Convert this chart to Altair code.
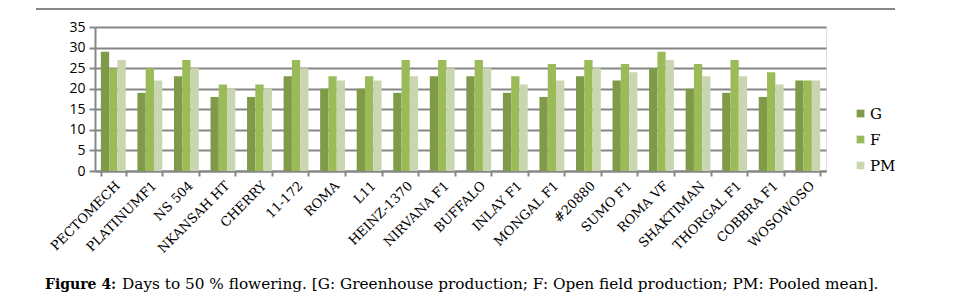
import altair as alt
import pandas as pd

varieties = ["PECTOMECH", "PLATINUMF1", "NS 504", "NKANSAH HT", "CHERRY", "11-172",
             "ROMA", "L11", "HEINZ-1370", "NIRVANA F1", "BUFFALO", "INLAY F1",
             "MONGAL F1", "#20880", "SUMO F1", "ROMA VF", "SHAKTIMAN", "THORGAL F1",
             "COBBRA F1", "WOSOWOSO"]
g_vals = [29, 19, 23, 18, 18, 23, 20, 20, 19, 23, 23, 19, 18, 23, 22, 25, 20, 19, 18, 22]
f_vals = [25, 25, 27, 21, 21, 27, 23, 23, 27, 27, 27, 23, 26, 27, 26, 29, 26, 27, 24, 22]
pm_vals = [27, 22, 25, 20, 20, 25, 22, 22, 23, 25, 25, 21, 22, 25, 24, 27, 23, 23, 21, 22]
series = ["G", "F", "PM"]
colors = ["#7f9a48", "#9bbb59", "#c9d6b0"]
y_ticks = [0, 5, 10, 15, 20, 25, 30, 35]

rows = []
for i, v in enumerate(varieties):
    for s, vals in zip(series, [g_vals, f_vals, pm_vals]):
        rows.append({"variety": v, "series": s, "value": vals[i]})
df = pd.DataFrame(rows)

W, H = 731, 144
SERIF = "DejaVu Serif"

bars = alt.Chart(df).mark_bar().encode(
    x=alt.X("variety:N", sort=varieties,
            scale=alt.Scale(paddingInner=0.32, paddingOuter=0.16),
            axis=alt.Axis(title=None, labelAngle=-45, labelAlign="right",
                          labelBaseline="top", labelFont=SERIF, labelFontSize=13,
                          labelColor="#000", domainColor="#868686", domainWidth=2,
                          tickColor="#868686", tickWidth=2, tickSize=5,
                          tickBand="extent", grid=False, labelPadding=3)),
    xOffset=alt.XOffset("series:N", sort=series),
    y=alt.Y("value:Q", scale=alt.Scale(domain=[0, 35], nice=False),
            axis=alt.Axis(title=None, values=y_ticks, labelFont="Open Sans",
                          labelFontSize=14, labelColor="#000",
                          domainColor="#868686", domainWidth=2,
                          tickColor="#868686", tickWidth=2, tickSize=6,
                          gridColor="#868686", gridWidth=2, labelPadding=4)),
    color=alt.Color("series:N", sort=series,
                    scale=alt.Scale(domain=series, range=colors),
                    legend=alt.Legend(title=None, orient="none", legendX=758,
                                      legendY=79, symbolType="square",
                                      symbolSize=60, symbolStrokeWidth=0,
                                      labelFont=SERIF, labelFontSize=15,
                                      labelColor="#000", rowPadding=10,
                                      labelOffset=2)),
)

top_rule = alt.Chart(pd.DataFrame({"a": [0]})).mark_rect(
    color="#868686").encode(
    x=alt.value(-59), x2=alt.value(800), y=alt.value(-19), y2=alt.value(-17))

cap1 = alt.Chart(pd.DataFrame({"t": ["Figure 4:"]})).mark_text(
    align="left", baseline="alphabetic", font=SERIF, fontSize=14,
    fontWeight="bold", color="#000").encode(
    text="t:N", x=alt.value(-50), y=alt.value(262))
cap2 = alt.Chart(pd.DataFrame({"t": ["Days to 50 % flowering. [G: Greenhouse production; F: Open field production; PM: Pooled mean]."]})).mark_text(
    align="left", baseline="alphabetic", font=SERIF, fontSize=15.3,
    color="#000").encode(
    text="t:N", x=alt.value(27), y=alt.value(262))

chart = alt.layer(bars, top_rule, cap1, cap2).properties(
    width=W, height=H,
    autosize=alt.AutoSizeParams(type="none"),
    padding={"left": 87, "top": 19, "right": 120, "bottom": 127},
).configure_view(stroke=None).configure(background="white")

chart.save("out.html", embed_options={"renderer": "svg", "actions": False})
